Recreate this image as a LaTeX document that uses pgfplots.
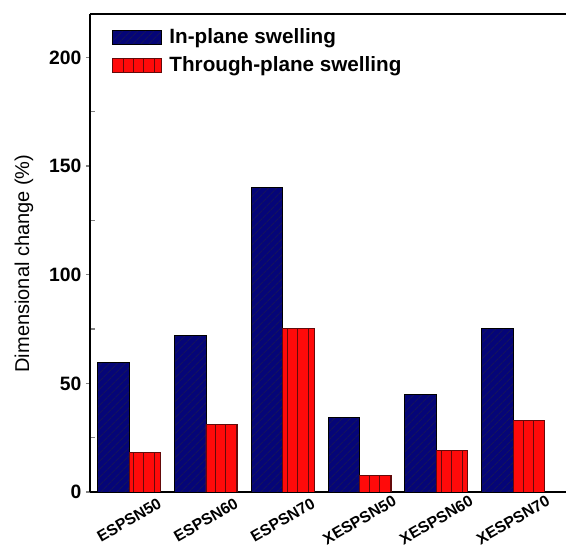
\documentclass[border=0pt]{standalone}
\usepackage{fontspec}
\setmainfont{Liberation Sans}
\usepackage{pgfplots}
\pgfplotsset{compat=1.18}
\usetikzlibrary{patterns.meta,calc}
\definecolor{navyfill}{RGB}{5,5,120}
\definecolor{hatchnavy}{RGB}{20,20,92}
\definecolor{barred}{RGB}{255,10,10}
\definecolor{redline}{RGB}{100,10,10}
\begin{document}
\begin{tikzpicture}
\begin{axis}[
  scale only axis,
  width=357pt, height=358.5pt,
  xmin=-0.51, xmax=5.69,
  ymin=0, ymax=220,
  axis x line*=box,
  axis y line*=left,
  axis line style={line width=1.2pt},
  xtick={0,1,2,3,4,5},
  xticklabels={ESPSN50,ESPSN60,ESPSN70,XESPSN50,XESPSN60,XESPSN70},
  major x tick style={draw=none},
  ytick={0,50,100,150,200},
  minor y tick num=1,
  tick align=outside,
  major tick length=3pt,
  minor tick length=3.5pt,
  minor y tick style={xshift=3.5pt, line width=0.9pt},
  major y tick style={line width=0.9pt},
  /pgf/number format/assume math mode=true,
  yticklabel style={font=\fontsize{14.5}{17}\selectfont\bfseries},
  xticklabel style={font=\fontsize{11.8}{13}\selectfont\bfseries, yshift=-18pt, rotate=30, anchor=center},
  ylabel={Dimensional change (\%)},
  ylabel style={at={(axis description cs:-0.139,0.478)}, anchor=center, font=\fontsize{15}{18}\selectfont},
  ybar=0pt,
  bar width=0.41,
  legend style={draw=none, fill=none, at={(axis description cs:0.045,0.975)}, anchor=north west,
    font=\fontsize{15.5}{18}\selectfont\bfseries, row sep=4pt, column sep=4pt, inner sep=0pt},
  legend cell align=left,
  legend image code/.code={\draw[#1] (0pt,-5.25pt) rectangle (36.75pt,5.25pt);},
]
\addplot[bar shift=-0.205, fill=navyfill, draw=black, line width=0.6pt,
  postaction={pattern={Lines[angle=45,distance=4pt,line width=0.9pt]}, pattern color=hatchnavy}]
  coordinates {(0,59.5) (1,72) (2,140) (3,34.5) (4,44.8) (5,75.2)};
\addplot[bar shift=0.205, fill=barred, draw=redline, line width=0.6pt,
  postaction={pattern={Lines[angle=90,distance=7.7pt,line width=0.7pt]}, pattern color=redline}]
  coordinates {(0,18.3) (1,31.2) (2,75.2) (3,7.6) (4,19) (5,33)};
\legend{In-plane swelling, Through-plane swelling}
\coordinate (SW) at (rel axis cs:0,0);
\coordinate (NE) at (rel axis cs:1,1);
\end{axis}
\pgfresetboundingbox
\path[use as bounding box] ($(SW)+(-67.5pt,-42pt)$) rectangle ($(NE)+(0pt,10.5pt)$);
\end{tikzpicture}
\end{document}
